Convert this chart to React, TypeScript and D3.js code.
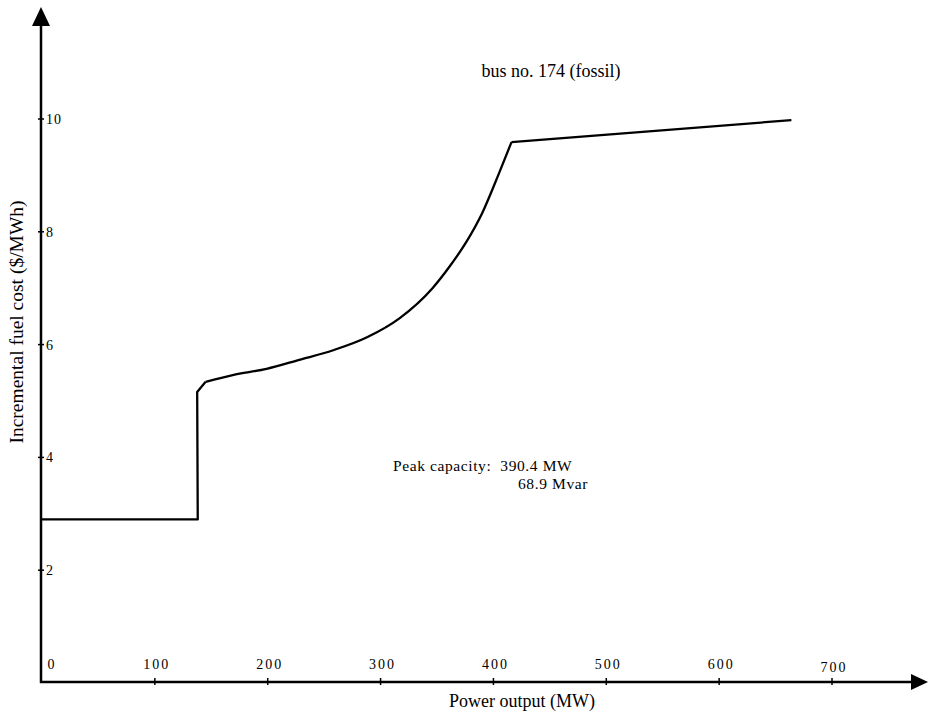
import React from "react";
import * as d3 from "d3";

const powerMW = [0, 138, 137.5, 145, 169, 199, 228, 258, 288, 317, 346, 361, 376, 390, 405, 416, 664];
const costs = [2.9, 2.9, 5.16, 5.34, 5.46, 5.57, 5.73, 5.9, 6.13, 6.47, 7.0, 7.38, 7.82, 8.33, 9.04, 9.59, 9.98];
const xTicks = [0, 100, 200, 300, 400, 500, 600, 700];
const yTicks = [2, 4, 6, 8, 10];
const title = "bus no. 174 (fossil)";
const xLabel = "Power output (MW)";
const yLabel = "Incremental fuel cost ($/MWh)";
const noteLines = ["Peak capacity:  390.4 MW", "68.9 Mvar"];

const W = 928;
const H = 716;

export default function App() {
  const x = d3.scaleLinear().domain([0, 700]).range([42, 832]);
  const y = d3.scaleLinear().domain([0, 10]).range([683, 119]);
  const pts = powerMW.map((p, i) => [p, costs[i]] as [number, number]);
  const linear = d3
    .line<[number, number]>()
    .x((d) => x(d[0]))
    .y((d) => y(d[1]))
    .curve(d3.curveLinear);
  const smooth = d3
    .line<[number, number]>()
    .x((d) => x(d[0]))
    .y((d) => y(d[1]))
    .curve(d3.curveMonotoneX);
  const seg1 = pts.slice(0, 4);
  const seg2 = pts.slice(3, 16);
  const seg3 = pts.slice(15);
  const ax = x(0) - 1;
  const ay = y(0) - 1;
  const font = "'Liberation Serif', 'DejaVu Serif', serif";
  const tickFont = 14;
  return (
    <svg
      width={W}
      height={H}
      style={{ position: "absolute", left: 0, top: 0, background: "#fff" }}
      fontFamily={font}
    >
      <rect width={W} height={H} fill="#fff" />
      {/* y axis */}
      <line x1={ax} x2={ax} y1={ay + 1} y2={24} stroke="#000" strokeWidth={2.5} />
      <path d={`M${ax},7 L${ax - 9},26 L${ax + 9},26 Z`} fill="#000" />
      {/* x axis */}
      <line x1={ax - 1} x2={914} y1={ay} y2={ay} stroke="#000" strokeWidth={2.5} />
      <path d={`M928,${ay} L911,${ay - 8} L911,${ay + 8} Z`} fill="#000" />
      {/* y ticks */}
      {yTicks.map((t) => (
        <g key={"y" + t}>
          <line x1={ax - 3} x2={ax + 3} y1={y(t)} y2={y(t)} stroke="#000" strokeWidth={1.5} />
          <text x={ax + 5} y={y(t)} dy="0.35em" fontSize={tickFont} letterSpacing={1} fill="#000">
            {t}
          </text>
        </g>
      ))}
      {/* x ticks */}
      {xTicks.map((t) => (
        <g key={"x" + t}>
          {t > 0 && (
            <line x1={x(t)} x2={x(t)} y1={ay - 4} y2={ay + 3} stroke="#000" strokeWidth={1.5} />
          )}
          <text
            x={t === 0 ? ax + 11 : x(t) + 2}
            y={t === 700 ? ay - 10 : ay - 13}
            textAnchor="middle"
            fontSize={tickFont}
            letterSpacing={2}
            fill="#000"
          >
            {t}
          </text>
        </g>
      ))}
      {/* curve */}
      <path d={linear(seg1) || ""} fill="none" stroke="#000" strokeWidth={2.3} strokeLinejoin="round" />
      <path d={smooth(seg2) || ""} fill="none" stroke="#000" strokeWidth={2.3} strokeLinejoin="round" />
      <path d={linear(seg3) || ""} fill="none" stroke="#000" strokeWidth={2.3} strokeLinejoin="round" />
      {/* texts */}
      <text x={551} y={77} textAnchor="middle" fontSize={18} fill="#000">
        {title}
      </text>
      <text x={393} y={471} fontSize={15.5} letterSpacing={0.6} fill="#000" xmlSpace="preserve">
        {noteLines[0]}
      </text>
      <text x={518} y={489} fontSize={15.5} letterSpacing={0.6} fill="#000">
        {noteLines[1]}
      </text>
      <text x={522} y={707} textAnchor="middle" fontSize={18} fill="#000">
        {xLabel}
      </text>
      <text
        transform={`translate(23,322) rotate(-90)`}
        textAnchor="middle"
        fontSize={19.5}
        fill="#000"
      >
        {yLabel}
      </text>
    </svg>
  );
}
